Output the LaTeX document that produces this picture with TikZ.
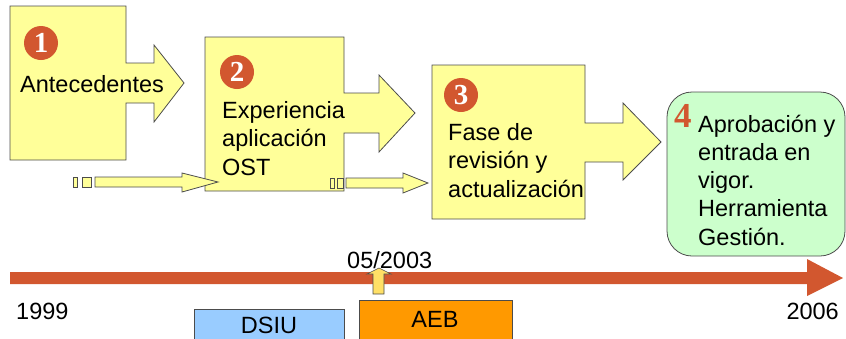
\documentclass[tikz,border=0pt]{standalone}
\usepackage{fontspec}
\setmainfont{Liberation Sans}
\newfontfamily\badgefont{Liberation Serif}
\usetikzlibrary{calc}

\definecolor{stepyellow}{HTML}{FFFF99}
\definecolor{badgered}{HTML}{D2572F}
\definecolor{stepgreen}{HTML}{CCFFCC}
\definecolor{dsiublue}{HTML}{99CCFF}
\definecolor{aeborange}{HTML}{FF9900}
\definecolor{markyellow}{HTML}{FFE066}

\tikzset{
  blockarrow/.style={fill=stepyellow, draw=black!70, line width=0.8pt},
  badge/.style={circle, fill=badgered, text=white, inner sep=0pt, minimum size=34pt,
    font=\badgefont\bfseries\fontsize{29}{29}\selectfont},
  steptext/.style={anchor=base west, inner sep=0pt, align=left,
    font=\fontsize{23.5}{28.5}\selectfont},
  yeartext/.style={inner sep=0pt, font=\fontsize{23.5}{28.5}\selectfont},
}

\begin{document}
\begin{tikzpicture}[x=1pt,y=-1pt]
     \clip (0,0) rectangle (846,338);
     %\draw[step=50,very thin,color=blue!20] (0,0) grid (846,338);

     % process blocks
     \draw[blockarrow] (10,6) -- (126,6) -- (126,63) -- (154,63) -- (154,45) -- (184,83)
        -- (154,122) -- (154,103) -- (126,103) -- (126,160) -- (10,160) -- cycle;
     \draw[blockarrow] (205,37) -- (344,37) -- (344,93) -- (379,93) -- (379,75) -- (415,113)
        -- (379,152) -- (379,133) -- (344,133) -- (344,191) -- (205,191) -- cycle;
     \draw[blockarrow] (432,65) -- (585,65) -- (585,123) -- (623,123) -- (623,103) -- (661,142)
        -- (623,180) -- (623,162) -- (585,162) -- (585,219) -- (432,219) -- cycle;
     \draw[fill=stepgreen, draw=black!70, line width=0.8pt, rounded corners=25pt]
        (667,92) rectangle (845,256);

     % striped arrows
     \draw[blockarrow] (73,177) rectangle (77,187);
     \draw[blockarrow] (82,177) rectangle (91,187);
     \draw[blockarrow] (95,177) -- (182,177) -- (182,173) -- (218,182) -- (182,192)
        -- (182,187) -- (95,187) -- cycle;
     \draw[blockarrow] (330,178) rectangle (334,188);
     \draw[blockarrow] (337,178) rectangle (343,188);
     \draw[blockarrow] (346,178) -- (403,178) -- (403,173) -- (428,183) -- (403,193)
        -- (403,188) -- (346,188) -- cycle;

     % badges
     \node[badge] (b1) at (41,43) {1};
     \node[badge] (b2) at (237,72) {2};
     \node[badge] (b3) at (461,95) {3};
     \node[anchor=base west, inner sep=0pt, text=badgered,
        font=\badgefont\bfseries\fontsize{35}{35}\selectfont] (b4) at (674,127) {4};

     % block texts (anchored at the baseline of the last line)
     \node[steptext] (antec) at (20,92) {Antecedentes};
     \node[steptext] (exper) at (222,175) {Experiencia\\aplicación\\OST};
     \node[steptext] (fase) at (448,197) {Fase de\\revisión y\\actualización};
     \node[steptext, font=\fontsize{23.5}{28.25}\selectfont] (aprob) at (698,245)
        {Aprobación y\\entrada en\\vigor.\\Herramienta\\Gestión.};

     % timeline
     \node[yeartext, anchor=base west] (may03) at (347,268) {05/2003};
     \fill[badgered] (10,272) -- (807,272) -- (807,259) -- (843,278) -- (807,296)
        -- (807,284) -- (10,284) -- cycle;
     \draw[fill=markyellow, draw=black!70, line width=0.6pt] (373,294) -- (373,274) -- (367,274)
        -- (379,268) -- (391,274) -- (384,274) -- (384,294) -- cycle;
     \node[yeartext, anchor=base west] (y1999) at (16,319) {1999};
     \node[yeartext, anchor=base east] (y2006) at (839,319) {2006};

     % bars
     \draw[fill=dsiublue, draw=black!70, line width=0.8pt] (194,309) rectangle (344,350);
     \draw[fill=aeborange, draw=black!70, line width=0.8pt] (359,300) rectangle (512,350);
     \node[yeartext, anchor=base] (dsiu) at (269,333) {DSIU};
     \node[yeartext, anchor=base] (aeb) at (435,327) {AEB};
  \end{tikzpicture}
\end{document}
